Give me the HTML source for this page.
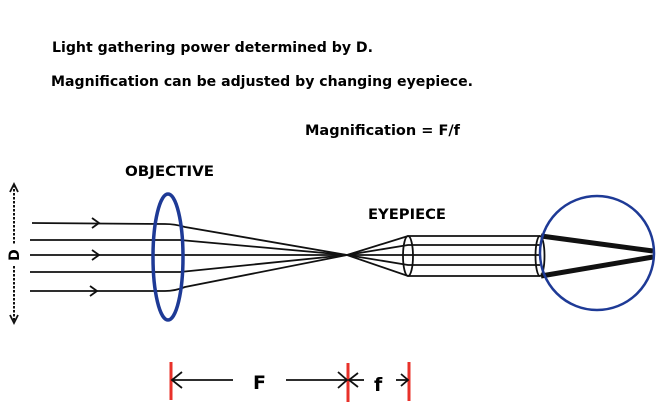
<!DOCTYPE html>
<html><head><style>body{margin:0;background:#fff}svg{display:block}</style></head><body>
<svg width="671" height="417" viewBox="0 0 671 417" xmlns="http://www.w3.org/2000/svg" font-family="DejaVu Sans, Liberation Sans, sans-serif" font-weight="bold">
<text x="52" y="52" font-size="14" textLength="321" lengthAdjust="spacingAndGlyphs">Light gathering power determined by D.</text>
<text x="51" y="86" font-size="14" textLength="422" lengthAdjust="spacingAndGlyphs">Magnification can be adjusted by changing eyepiece.</text>
<text x="305" y="135" font-size="14" textLength="155" lengthAdjust="spacingAndGlyphs">Magnification = F/f</text>
<text x="125" y="176" font-size="14" textLength="89" lengthAdjust="spacingAndGlyphs">OBJECTIVE</text>
<text x="368" y="219" font-size="14" textLength="78" lengthAdjust="spacingAndGlyphs">EYEPIECE</text>
<text transform="translate(19,255) rotate(-90)" font-size="14" text-anchor="middle">D</text>
<g stroke="#111" stroke-width="1.8" fill="none">
<line x1="14" y1="185" x2="14" y2="245" stroke-dasharray="2.5,1.5" stroke-width="2"/>
<line x1="14" y1="266" x2="14" y2="322" stroke-dasharray="2.5,1.5" stroke-width="2"/>
<polyline points="10,192 14,184 18,192"/>
<polyline points="10,315 14,323 18,315"/>
<path d="M32 223 L165 224 Q175 224 185 227 L347 255 L408 236 L540 236"/>
<path d="M30 240 L180 240 L347 255 L408 245 L540 245"/>
<path d="M30 255 L347 255 L540 255"/>
<path d="M30 272 L180 272 L347 255 L408 265 L540 265"/>
<path d="M30 291 L165 291 Q175 291 185 287 L347 255 L408 276 L540 276"/>
<polyline points="92,218 99,223 92,228"/>
<polyline points="92,250 99,255 92,260"/>
<polyline points="90,286 97,291 90,296"/>
<ellipse cx="408" cy="256" rx="5" ry="20"/>
<ellipse cx="540" cy="256" rx="4.5" ry="20"/>
</g>
<g stroke="#111" stroke-width="5"><line x1="541" y1="236" x2="653" y2="251"/><line x1="541" y1="276" x2="653" y2="257"/></g>
<ellipse cx="168" cy="257" rx="15" ry="63" fill="none" stroke="#1e3a96" stroke-width="3.5"/>
<circle cx="597" cy="253" r="57" fill="none" stroke="#1e3a96" stroke-width="2.5"/>
<g stroke="#e8312a" stroke-width="3"><line x1="171" y1="362" x2="171" y2="400"/><line x1="348" y1="363" x2="348" y2="402"/><line x1="409" y1="362" x2="409" y2="401"/></g>
<g stroke="#111" stroke-width="1.8" fill="none">
<line x1="172" y1="380" x2="233" y2="380"/><polyline points="182,372 172,380 182,388"/>
<line x1="286" y1="380" x2="347" y2="380"/><polyline points="338,372 347,380 338,388"/>
<polyline points="358,373 349,380 358,387"/><line x1="349" y1="380" x2="364" y2="380"/>
<line x1="396" y1="380" x2="408" y2="380"/><polyline points="401,374 408,380 401,386"/>
</g>
<text x="253" y="389" font-size="19">F</text>
<text x="374" y="391" font-size="19">f</text>
</svg>
</body></html>
